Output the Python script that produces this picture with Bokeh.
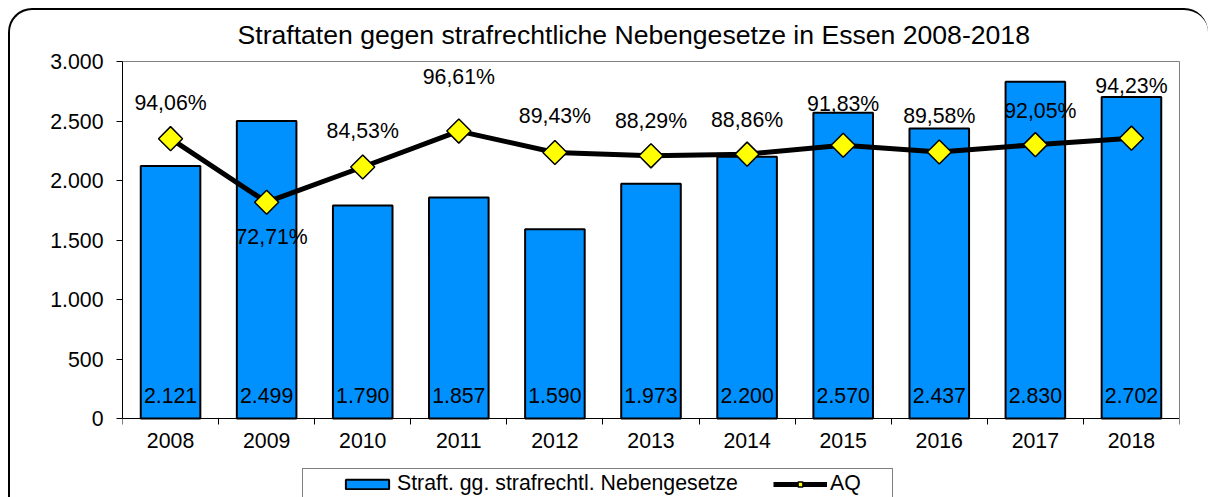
import numpy as np
from bokeh.plotting import figure
from bokeh.models import (Range1d, FixedTicker, Legend, LegendItem, ColumnDataSource,
                          InlineStyleSheet, LinearAxis)
from bokeh.core.properties import value
from bokeh.embed import file_html
from bokeh.resources import INLINE

years = ["2008", "2009", "2010", "2011", "2012", "2013", "2014", "2015", "2016", "2017", "2018"]
cases = [2121, 2499, 1790, 1857, 1590, 1973, 2200, 2570, 2437, 2830, 2702]
aq = [94.06, 72.71, 84.53, 96.61, 89.43, 88.29, 88.86, 91.83, 89.58, 92.05, 94.23]
y_ticks = [0, 500, 1000, 1500, 2000, 2500, 3000]
y_tick_labels = ["0", "500", "1.000", "1.500", "2.000", "2.500", "3.000"]
title_text = "Straftaten gegen strafrechtliche Nebengesetze in Essen 2008-2018"
bar_name = "Straft. gg. strafrechtl. Nebengesetze"
line_name = "AQ"

# label placement (pixel offsets from the marker)
aq_label_dy = [-36, 35, -36, -54, -36, -35, -34, -41, -36, -34, -52]
aq_label_dx = [0, 5, 0, 0, 0, 0, 0, 0, 0, 5, 0]

FONT = "Liberation Sans"
FS = "21.3px"
x = [i + 0.5 for i in range(len(years))]

# layout: plot area 357 px high for 0..3000, plus 79 px below the zero line for
# the year labels and the legend (the frame is extended down to the page bottom)
Y_MAX, AQ_MAX = 3000, 120
PLOT_H, BELOW_H = 357, 79
y_start = -Y_MAX * BELOW_H / PLOT_H
aq_start = -AQ_MAX * BELOW_H / PLOT_H

src = ColumnDataSource(dict(
    x=x, cases=cases, aq=aq,
    case_lbl=[f"{v:,}".replace(",", ".") for v in cases],
    aq_lbl=[f"{v:.2f}%".replace(".", ",") for v in aq],
    zero=[0] * len(years),
    dy=aq_label_dy, dx=aq_label_dx,
))

css = """
:host::after { content: ""; position: absolute; left: 8px; top: 8px; width: 1200px; height: 489px;
  border: 2px solid black; border-right: none; border-bottom: none; border-radius: 24px 24px 0 0;
  box-sizing: border-box; pointer-events: none; z-index: 10; }
:host::before { content: ""; position: absolute; left: 302px; top: 468px; width: 591px; height: 29px;
  border: 1px solid #808080; border-bottom: none; box-sizing: border-box; pointer-events: none; z-index: 10; }
"""

p = figure(frame_width=1057, frame_height=PLOT_H + BELOW_H,
           x_range=Range1d(0, len(years)), y_range=Range1d(y_start, Y_MAX),
           output_backend="svg", toolbar_location=None,
           min_border_left=122, min_border_right=29, min_border_top=61, min_border_bottom=0,
           stylesheets=[InlineStyleSheet(css=css)])
p.extra_y_ranges = {"aq": Range1d(aq_start, AQ_MAX)}
p.border_fill_color = "white"
p.background_fill_color = "white"
p.outline_line_color = None
p.xgrid.visible = False
p.ygrid.visible = False

p.title.text = title_text
p.title.align = "left"
p.title.offset = 115
p.title.text_font = FONT
p.title.text_font_size = "26.6px"
p.title.text_font_style = "normal"
p.title.text_color = "black"
p.title.standoff = 23

# axes
p.yaxis.ticker = FixedTicker(ticks=y_ticks)
p.yaxis.bounds = (0, Y_MAX)
p.yaxis.major_label_overrides = {t: l for t, l in zip(y_ticks, y_tick_labels)}
p.yaxis.major_tick_out = 6
p.yaxis.major_tick_in = 0
p.yaxis.minor_tick_line_color = None
p.yaxis.major_label_standoff = 13
p.yaxis.major_label_text_font = FONT
p.yaxis.major_label_text_font_size = FS
p.yaxis.major_label_text_color = "black"
p.yaxis.axis_line_color = "black"
p.yaxis.major_tick_line_color = "black"

p.xaxis.fixed_location = 0
p.xaxis.ticker = FixedTicker(ticks=x, minor_ticks=list(range(len(years) + 1)))
p.xaxis.major_label_overrides = {c: y for c, y in zip(x, years)}
p.xaxis.major_tick_out = 0
p.xaxis.major_tick_in = 0
p.xaxis.minor_tick_out = 6
p.xaxis.minor_tick_in = 0
p.xaxis.minor_tick_line_color = "black"
p.xaxis.major_label_standoff = 8
p.xaxis.major_label_text_font = FONT
p.xaxis.major_label_text_font_size = FS
p.xaxis.major_label_text_color = "black"
p.xaxis.axis_line_color = "black"

# grey plot-area border on top and right (as plain axes without ticks)
top_border = LinearAxis(ticker=FixedTicker(ticks=[]), axis_line_color="#808080",
                        major_tick_line_color=None, minor_tick_line_color=None)
right_border = LinearAxis(ticker=FixedTicker(ticks=[]), bounds=(0, Y_MAX), axis_line_color="#808080",
                          major_tick_line_color=None, minor_tick_line_color=None)
p.add_layout(top_border, "above")
p.add_layout(right_border, "right")

bars = p.vbar(x="x", top="cases", width=0.62, source=src, fill_color="#0091FF",
              line_color="black", line_width=2)
ln = p.line(x="x", y="aq", source=src, y_range_name="aq", line_color="black", line_width=5)
mk = p.scatter(x="x", y="aq", source=src, y_range_name="aq", marker="square", size=17,
               angle=np.pi / 4, fill_color="#FFFF00", line_color="black", line_width=1.5)

p.text(x="x", y="zero", text="case_lbl", source=src, y_offset=-23,
       text_align="center", text_baseline="middle", text_font=value(FONT),
       text_font_size=FS, text_color="black")
p.text(x="x", y="aq", text="aq_lbl", source=src, y_range_name="aq", y_offset="dy", x_offset="dx",
       text_align="center", text_baseline="middle", text_font=value(FONT),
       text_font_size=FS, text_color="black")

legend = Legend(items=[LegendItem(label=bar_name, renderers=[bars]),
                       LegendItem(label=line_name, renderers=[ln, mk])],
                orientation="horizontal", location=(218, 1),
                border_line_alpha=0, background_fill_alpha=0,
                padding=0, spacing=35, margin=0,
                glyph_width=54, glyph_height=12, label_standoff=3, label_height=24,
                label_text_font=FONT, label_text_font_size=FS, label_text_color="black")
p.add_layout(legend, "center")

open("out.html", "w").write(file_html(p, INLINE))
